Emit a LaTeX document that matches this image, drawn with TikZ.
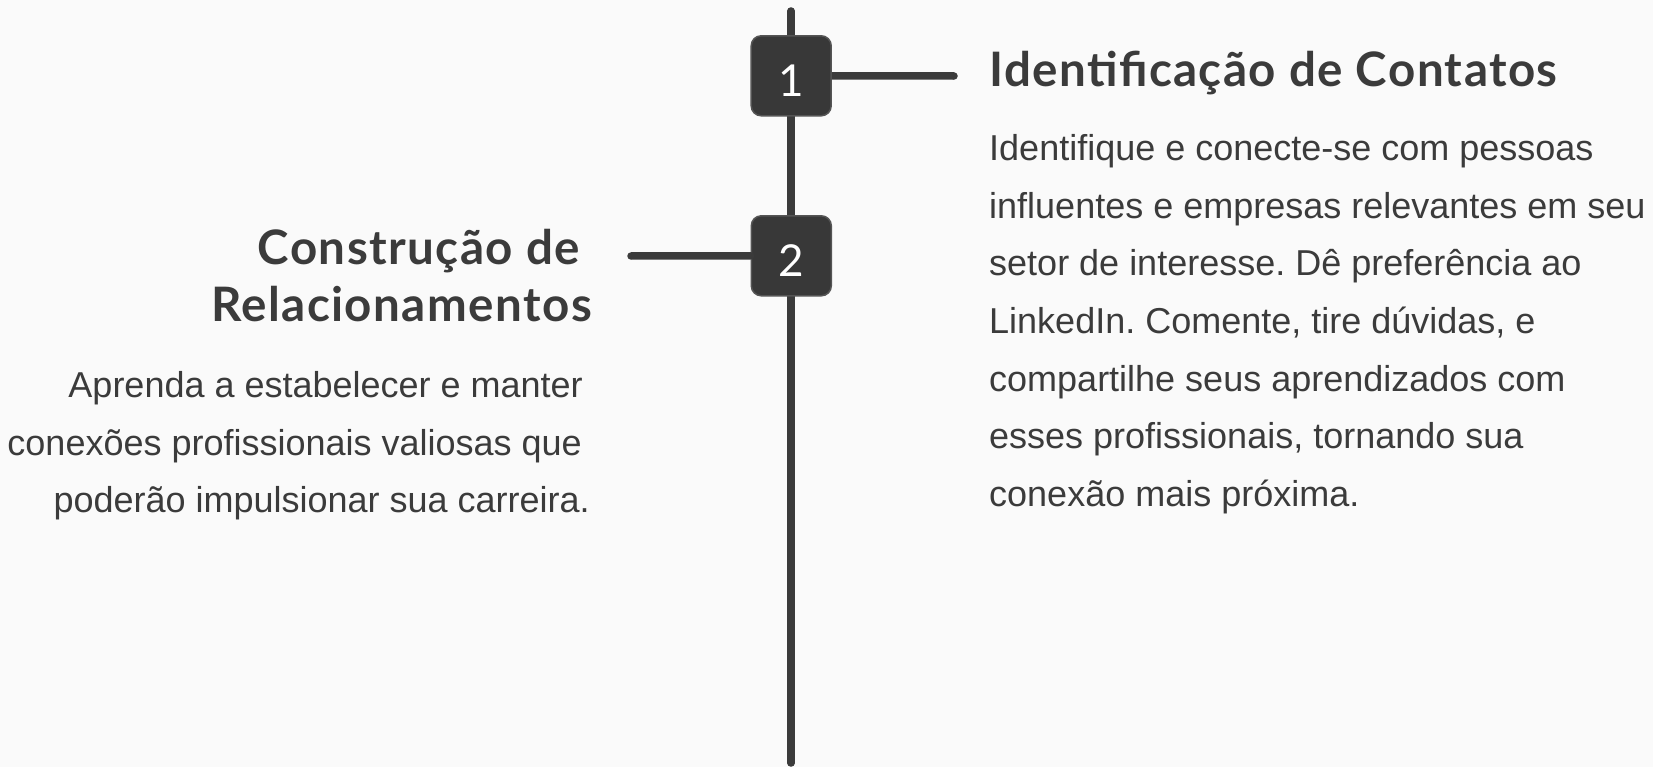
\documentclass[tikz,border=0pt]{standalone}
\usepackage{fontspec}
\setmainfont{Liberation Sans}
\newfontfamily\titlefont[UprightFont=* Bold, LetterSpace=3]{Lato}
\newfontfamily\numfont{Lato}
\definecolor{bgc}{HTML}{FAFAFA}
\definecolor{ink}{HTML}{3B3B3B}
\definecolor{boxfill}{HTML}{383838}
\definecolor{boxedge}{HTML}{555555}
\frenchspacing
\begin{document}
\begin{tikzpicture}[x=1pt,y=-1pt,
  numbox/.style={draw=boxedge, line width=1.5pt, fill=boxfill, rounded corners=10pt,
    minimum width=80pt, minimum height=80pt, inner sep=0pt, text=white,
    text height=41.7pt, text depth=0pt,
    font=\numfont\fontsize{44}{44}\selectfont},
  conn/.style={draw=ink, line width=7.5pt, line cap=round},
  ttl/.style={inner sep=0pt, text=ink, font=\titlefont\fontsize{47.5}{56}\selectfont},
  body/.style={inner sep=0pt, text=ink, font=\fontsize{36}{57.6}\selectfont}]
\fill[bgc] (0,0) rectangle (1653,767);
\useasboundingbox (0,0) rectangle (1653,767);

\coordinate (top) at (791,11);
\coordinate (bot) at (791,763);
\coordinate (r1) at (954,76);
\coordinate (l2) at (631,256);

\draw[conn] (top) -- (bot);
\node[numbox] (b1) at (791.2,75.8) {1};
\node[numbox] (b2) at (791.3,255.8) {2};
\draw[conn,line cap=butt] (b1.east) -- (r1);
\draw[conn] (r1) -- ++(0,0);
\draw[conn] (l2) -- (b2.west);

% right block
\node[ttl, anchor=base west] (t1) at (989,86.7) {Identificação de Contatos};
\node[body, anchor=base west] (d1a) at (989,160.7) {Identifique e conecte-se com pessoas};
\node[body, anchor=base west] (d1b) at (989,218.3) {influentes e empresas relevantes em seu};
\node[body, anchor=base west] (d1c) at (989,275.9) {setor de interesse. Dê preferência ao};
\node[body, anchor=base west] (d1d) at (989,333.5) {LinkedIn. Comente, tire dúvidas, e};
\node[body, anchor=base west] (d1e) at (989,391.1) {compartilhe seus aprendizados com};
\node[body, anchor=base west] (d1f) at (989,448.7) {esses profissionais, tornando sua};
\node[body, anchor=base west] (d1g) at (989,506.3) {conexão mais próxima.};

% left block
\node[ttl, anchor=base east] (t2a) at (580,265) {Construção de};
\node[ttl, anchor=base east] (t2b) at (592,321) {Relacionamentos};
\node[body, anchor=base east] (d2a) at (583,397) {Aprenda a estabelecer e manter};
\node[body, anchor=base east] (d2b) at (582,455) {conexões profissionais valiosas que};
\node[body, anchor=base east] (d2c) at (590,512) {poderão impulsionar sua carreira.};
\end{tikzpicture}
\end{document}
